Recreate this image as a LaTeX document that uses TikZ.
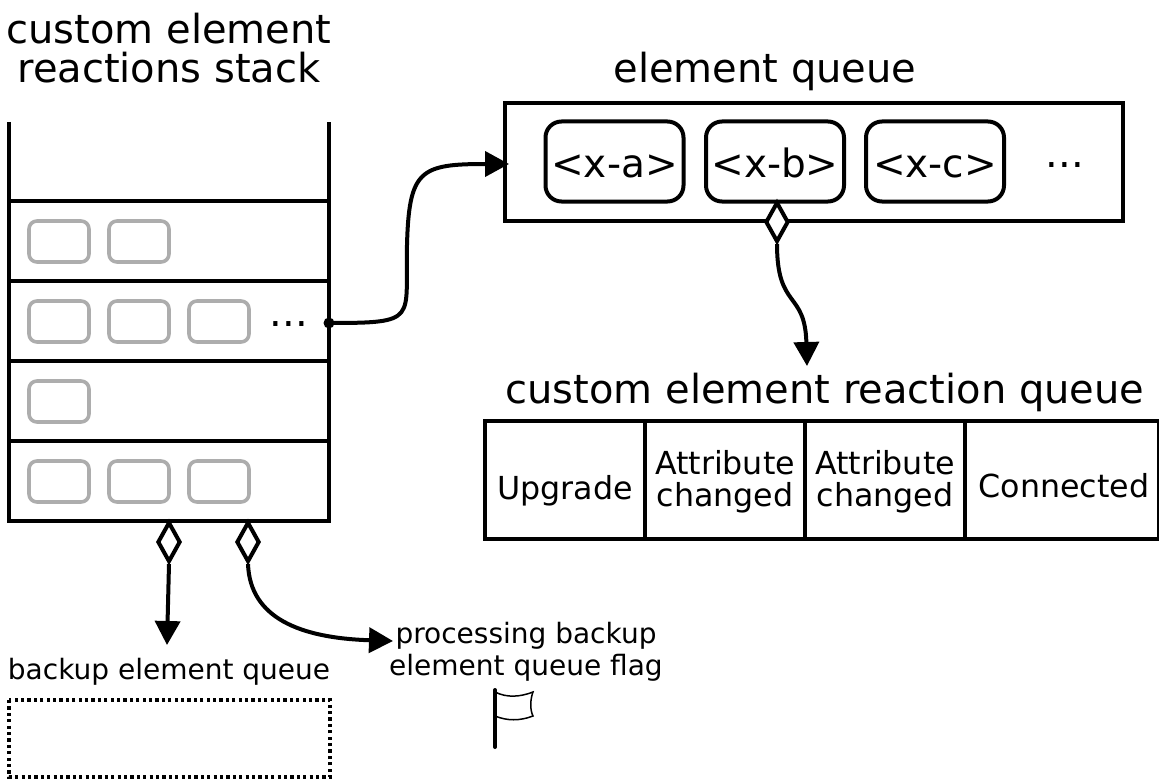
\documentclass[tikz,border=0pt]{standalone}
\usepackage{fontspec}
\setmainfont{DejaVu Sans}
\usetikzlibrary{arrows.meta,shapes.geometric}
\tikzset{x=1pt,y=-1pt,
 ln/.style={line width=4pt,black},
 big/.style={font=\fontsize{40}{39}\selectfont,align=center,inner sep=0pt},
 mid/.style={font=\fontsize{31.7}{32}\selectfont,align=center,inner sep=0pt},
 sm/.style={font=\fontsize{28}{31.5}\selectfont,align=center,inner sep=0pt},
 gbox/.style={draw=black!32,line width=3.6pt,rounded corners=8pt,minimum width=60pt,minimum height=41pt,inner sep=0pt},
 xbox/.style={draw=black,line width=4pt,rounded corners=16pt,minimum width=138pt,minimum height=80pt,inner sep=0pt,font=\fontsize{39}{44}\selectfont,text height=36pt,text depth=4pt},
 dia/.style={diamond,draw=black,fill=white,line width=4pt,minimum width=23pt,minimum height=40pt,inner sep=0pt,aspect=0.5},
 conn/.style={line width=4pt,draw=black,-{Triangle[length=24pt,width=25pt]}},
}
\begin{document}
\begin{tikzpicture}
\useasboundingbox (0,0) rectangle (1159,781);
% stack
\draw[ln,line cap=butt] (9,122) -- (9,521) -- (329,521) -- (329,122);
\foreach \y in {201,281,361,441} \draw[ln] (9,\y) -- (329,\y);
\node[gbox] (a1) at (59,241.5) {};
\node[gbox] (a2) at (139,241.5) {};
\node[gbox] (b1) at (59,321.5) {};
\node[gbox] (b2) at (139,321.5) {};
\node[gbox] (b3) at (219,321.5) {};
\node[big] (dots) at (289,324) {...};
\node[gbox] (c1) at (59,401.5) {};
\node[gbox] (d1) at (59,481.5) {};
\node[gbox] (d2) at (139,481.5) {};
\node[gbox] (d3) at (219,481.5) {};
\node[big] (t1) at (169,48) {custom element\\reactions stack};
\node[big] (t2) at (765,71) {element queue};
\node[draw=black,line width=4pt,minimum width=618pt,minimum height=118pt,inner sep=0pt] (eq) at (814,162) {};
\node[xbox] (xa) at (614.5,161.5) {<x-a>};
\node[xbox] (xb) at (775,161.5) {<x-b>};
\node[xbox] (xc) at (935,161.5) {<x-c>};
\node[big] (dots2) at (1065,165) {...};
\node[big] (t3) at (825,392) {custom element reaction queue};
\draw[ln] (485,421) rectangle (1159,539);
\draw[ln] (645,421) -- (645,539) (805,421) -- (805,539) (965,421) -- (965,539);
\node[mid] at (565,491) {Upgrade};
\node[mid] at (725,482) {Attribute\\changed};
\node[mid] at (885,482) {Attribute\\changed};
\node[mid] at (1064,486) {Connected};
% connectors
\coordinate (p0) at (329,323);
\fill (p0) circle (5.5pt);
\coordinate (p1) at (509,164);
\draw[conn] (p0) .. controls (420,323) and (405,320) .. (407,245) .. controls (409,170) and (420,164) .. (p1);
\node[dia] (d0) at (777,222) {};
\coordinate (p2) at (807,366);
\draw[conn] (d0.south) .. controls (777,310) and (805,290) .. (p2);
\node[dia] (d4) at (169,542) {};
\coordinate (p3) at (167,645);
\draw[conn] (d4.south) -- (p3);
\node[dia] (d5) at (248,542) {};
\coordinate (p4) at (393,641);
\draw[conn] (d5.south) .. controls (250,618) and (300,638) .. (p4);
\node[sm] at (526,652) {processing backup\\element queue flag};
\node[sm] at (169,672) {backup element queue};
\draw[line width=3.8pt,dash pattern=on 3.2pt off 3.2pt] (9,700) rectangle (330,777);
\draw[line width=4pt,line cap=round] (495,690) -- (495,747);
\draw[line width=1.5pt] (495,692) .. controls (507,698) and (520,697) .. (533,692) .. controls (530,700) and (530,710) .. (533,716) .. controls (520,721) and (507,721) .. (495,716);
\end{tikzpicture}
\end{document}
